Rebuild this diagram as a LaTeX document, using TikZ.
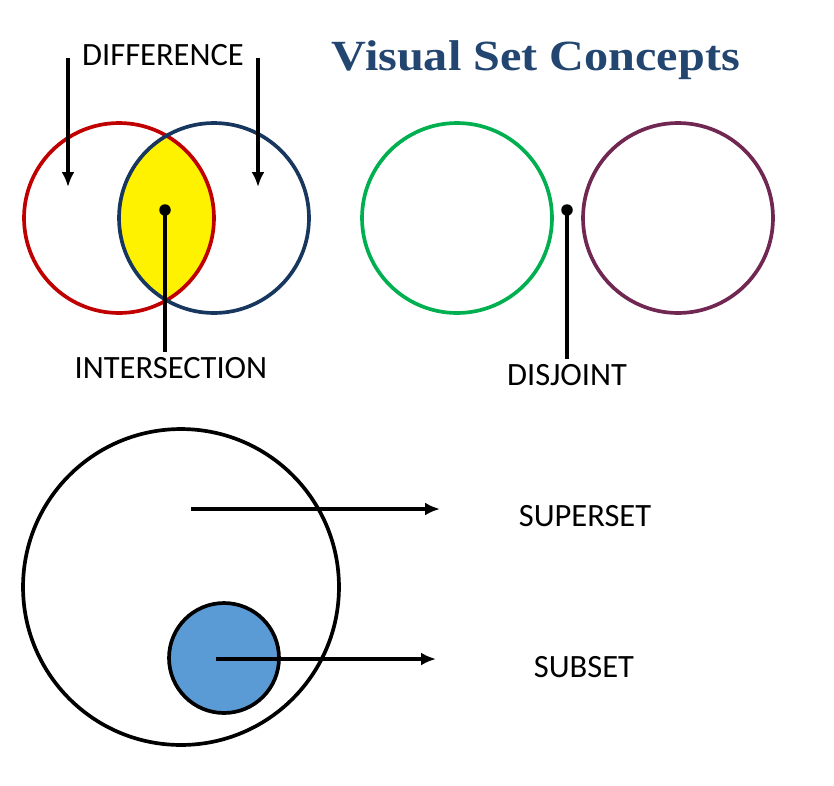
\documentclass[tikz,border=0pt]{standalone}
\usepackage{fontspec}
\setmainfont{Carlito}
\newfontfamily\titlefont{Liberation Serif}
\usetikzlibrary{positioning,arrows.meta}
\tikzset{>=Latex}
\definecolor{cTitle}{RGB}{35,70,112}
\definecolor{cRed}{RGB}{192,0,0}
\definecolor{cNavy}{RGB}{23,55,94}
\definecolor{cGreen}{RGB}{0,176,80}
\definecolor{cPlum}{RGB}{112,40,82}
\definecolor{cBlue}{RGB}{91,155,213}

\begin{document}
\begin{tikzpicture}[
  x=0.02cm, y=-0.02cm,
  line width=2.3pt
]
\useasboundingbox (0,0) rectangle (834,785);

% Styles.
\tikzset{
  setc/.style={circle, draw, line width=2.1pt, minimum size=3.8cm, inner sep=0pt},
  lbl/.style={font=\fontsize{18.5}{22}\selectfont, inner sep=2pt},
  pin/.style={circle, fill=black, minimum size=0.23cm, inner sep=0pt},
  tip/.style={-{Latex[length=0.3cm, width=0.26cm]}}
}

% Title.
\node (title) [anchor=base, text=cTitle, xscale=1.12,
  font=\titlefont\bfseries\fontsize{24.5}{28}\selectfont] at (536,70) {Visual Set Concepts};

% Centres.
\coordinate (cA) at (119,218);
\coordinate (cB) at (214,218);

% Intersection fill.
\begin{scope}
  \clip (cA) circle (1.9cm);
  \fill[yellow] (cB) circle (1.9cm);
\end{scope}

% Sets A and B.
\node (setA) [setc, draw=cRed]  at (cA) {};
\node (setB) [setc, draw=cNavy] at (cB) {};

% Difference.
\node (diff) [lbl] at (163,55) {DIFFERENCE};
\coordinate (dA) at (68,58);
\coordinate (dAe) at (68,187);
\coordinate (dB) at (258,58);
\coordinate (dBe) at (258,187);
\draw[tip] (dA) -- (dAe);
\draw[tip] (dB) -- (dBe);

% Intersection.
\node (idot) [pin] at (165,210) {};
\node (inter) [lbl] at (171,368) {INTERSECTION};
\draw (idot.center) -- (idot.center |- inter.north);

% Disjoint sets.
\node (setC) [setc, draw=cGreen] at (457,218) {};
\node (setD) [setc, draw=cPlum]  at (678,218) {};
\node (jdot) [pin] at (567,210) {};
\node (disj) [lbl] at (567,375) {DISJOINT};
\draw (jdot.center) -- (jdot.center |- disj.north);

% Superset and subset.
\node (sup) [setc, minimum size=6.32cm] at (181,587) {};
\node (sub) [setc, fill=cBlue, minimum size=2.2cm] at (224,658) {};
\node (supl) [lbl] at (585,516) {SUPERSET};
\node (subl) [lbl] at (584,667) {SUBSET};
\coordinate (supS) at (191,509);
\coordinate (supE) at (440,509);
\coordinate (subS) at (216,659);
\coordinate (subE) at (436,659);
\draw[tip] (supS) -- (supE);
\draw[tip] (subS) -- (subE);
\end{tikzpicture}
\end{document}
